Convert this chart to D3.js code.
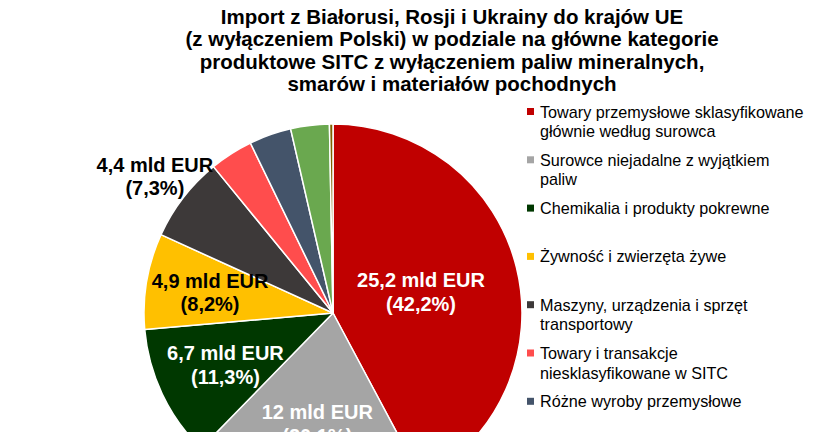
<!DOCTYPE html>
<html><head><meta charset="utf-8">
<script src="https://cdn.jsdelivr.net/npm/d3@7"></script>
<style>
html,body{margin:0;padding:0;background:#fff;overflow:hidden}
svg{display:block;font-family:"Liberation Sans",Arial,sans-serif}
</style></head><body>
<svg id="chart" width="820" height="432"></svg>
<script>
const titleLines = [
  "Import z Białorusi, Rosji i Ukrainy do krajów UE",
  "(z wyłączeniem Polski) w podziale na główne kategorie",
  "produktowe SITC z wyłączeniem paliw mineralnych,",
  "smarów i materiałów pochodnych"
];
const categories = [
  "Towary przemysłowe sklasyfikowane głównie według surowca",
  "Surowce niejadalne z wyjątkiem paliw",
  "Chemikalia i produkty pokrewne",
  "Żywność i zwierzęta żywe",
  "Maszyny, urządzenia i sprzęt transportowy",
  "Towary i transakcje niesklasyfikowane w SITC",
  "Różne wyroby przemysłowe",
  "Oleje, tłuszcze i woski zwierzęce i roślinne",
  "Napoje i tytoń"
];
const legendLines = [
  ["Towary przemysłowe sklasyfikowane", "głównie według surowca"],
  ["Surowce niejadalne z wyjątkiem", "paliw"],
  ["Chemikalia i produkty pokrewne"],
  ["Żywność i zwierzęta żywe"],
  ["Maszyny, urządzenia i sprzęt", "transportowy"],
  ["Towary i transakcje", "niesklasyfikowane w SITC"],
  ["Różne wyroby przemysłowe"]
];
const shares = [42.2, 20.1, 11.3, 8.2, 7.3, 3.7, 3.6, 3.3, 0.3];
const valueLabels = ["25,2 mld EUR", "12 mld EUR", "6,7 mld EUR", "4,9 mld EUR", "4,4 mld EUR", null, null, null, null];
const shareLabels = ["(42,2%)", "(20,1%)", "(11,3%)", "(8,2%)", "(7,3%)", null, null, null, null];
const colors = ["#C00000", "#A5A5A5", "#003800", "#FFC000", "#3D3939", "#FF4D4D", "#44546A", "#6AA84F", "#7F6000"];

// layout config
const cx = 333, cy = 313, R = 189;
const labelRadius = [0.48, 0.59, 0.63, 0.66, 1.19];
const labelColor = ["#fff", "#fff", "#fff", "#000", "#000"];

const svg = d3.select("#chart");

// title
const title = svg.append("text").attr("x", 452).attr("y", 24)
  .attr("text-anchor", "middle").attr("font-weight", "bold").attr("font-size", 20.5).attr("fill", "#000");
titleLines.forEach((t, i) => title.append("tspan").attr("x", 452).attr("dy", i === 0 ? 0 : 22.3).text(t));

const pie = d3.pie().sort(null).value(d => d)(shares);
const arc = d3.arc().innerRadius(0).outerRadius(R);
const g = svg.append("g").attr("transform", `translate(${cx},${cy})`);
g.selectAll("path.slice").data(pie).join("path")
  .attr("class", "slice")
  .attr("d", arc)
  .attr("fill", (d, i) => colors[i])
  .attr("stroke", "#fff").attr("stroke-width", 1.5).attr("stroke-linejoin", "round");

// labels
pie.forEach((d, i) => {
  if (!valueLabels[i]) return;
  const a = (d.startAngle + d.endAngle) / 2;
  const r = R * labelRadius[i];
  const x = r * Math.sin(a), y = -r * Math.cos(a);
  const t = g.append("text").attr("text-anchor", "middle")
    .attr("font-weight", "bold").attr("font-size", 20).attr("fill", labelColor[i]);
  t.append("tspan").attr("x", x).attr("y", y - 4).text(valueLabels[i]);
  t.append("tspan").attr("x", x).attr("y", y + 19.5).text(shareLabels[i]);
});

// legend
const lg = svg.append("g").attr("transform", "translate(527,0)");
legendLines.forEach((lines, i) => {
  const y0 = 112 + i * 48.3;
  lg.append("rect").attr("x", 0).attr("y", y0 - 4).attr("width", 7).attr("height", 7).attr("fill", colors[i]);
  const t = lg.append("text").attr("font-size", 16.2).attr("fill", "#000");
  lines.forEach((l, j) => t.append("tspan").attr("x", 13).attr("y", y0 + 5.5 + j * 19.5).text(l));
});
</script>
</body></html>
